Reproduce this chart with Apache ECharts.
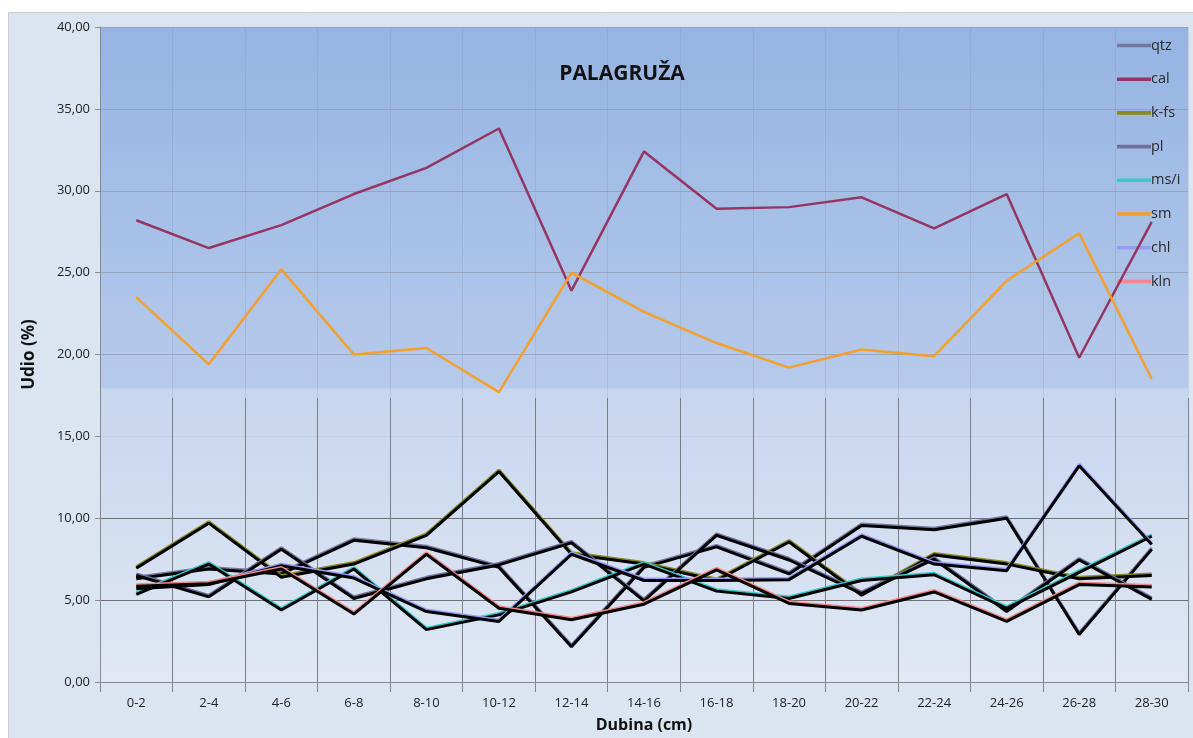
<!DOCTYPE html>
<html>
<head>
<meta charset="utf-8">
<script src="https://cdn.jsdelivr.net/npm/echarts@6/dist/echarts.min.js"></script>
<style>
  html, body { margin: 0; padding: 0; background: #ffffff; }
  #chart { width: 1193px; height: 738px; }
</style>
</head>
<body>
<div id="chart"></div>
<script>
// Depth intervals (cm)
const categories = ['0-2','2-4','4-6','6-8','8-10','10-12','12-14','14-16','16-18','18-20','20-22','22-24','24-26','26-28','28-30'];

// Mineral shares (%) per depth interval
const qtz  = [6.3, 6.9, 6.6, 8.65, 8.2, 7.0, 2.15, 7.0, 8.25, 6.6, 9.55, 9.3, 10.0, 2.9, 8.1];
const cal  = [28.2, 26.5, 27.9, 29.8, 31.4, 33.8, 23.9, 32.4, 28.9, 29.0, 29.6, 27.7, 29.8, 19.8, 28.1];
const kfs  = [6.95, 9.7, 6.4, 7.2, 8.95, 12.85, 7.8, 7.2, 6.2, 8.55, 5.3, 7.75, 7.2, 6.3, 6.5];
const pl   = [6.5, 5.2, 8.1, 5.1, 6.3, 7.15, 8.5, 4.95, 8.95, 7.45, 5.4, 7.5, 4.3, 7.45, 5.05];
const msi  = [5.35, 7.2, 4.4, 6.9, 3.2, 4.1, 5.5, 7.2, 5.55, 5.1, 6.2, 6.55, 4.5, 6.7, 8.9];
const sm   = [23.5, 19.4, 25.2, 20.0, 20.4, 17.7, 25.0, 22.6, 20.7, 19.2, 20.3, 19.9, 24.5, 27.4, 18.5];
const chl  = [5.7, 5.95, 7.1, 6.35, 4.3, 3.7, 7.8, 6.2, 6.2, 6.25, 8.9, 7.2, 6.8, 13.2, 8.4];
const kln  = [5.85, 6.0, 6.9, 4.15, 7.8, 4.5, 3.8, 4.75, 6.85, 4.8, 4.4, 5.5, 3.7, 5.95, 5.8];

const yTicks = { min: 0, max: 40, interval: 5 };

const seriesDefs = [
  { name: 'qtz',  data: qtz, color: '#76769f', dark: true },
  { name: 'cal',  data: cal, color: '#943562', dark: false },
  { name: 'k-fs', data: kfs, color: '#8a8a1a', dark: true },
  { name: 'pl',   data: pl,  color: '#6f6f9c', dark: true },
  { name: 'ms/i', data: msi, color: '#33cccc', dark: true },
  { name: 'sm',   data: sm,  color: '#f5a02a', dark: false },
  { name: 'chl',  data: chl, color: '#9b9bf5', dark: true },
  { name: 'kln',  data: kln, color: '#f58888', dark: true }
];

const FONT = 'Open Sans';
const chart = echarts.init(document.getElementById('chart'), null, { renderer: 'canvas' });

const fmt = v => v.toFixed(2).replace('.', ',');

const series = seriesDefs.map(s => ({
  name: s.name,
  type: 'line',
  data: s.data,
  xAxisIndex: 0,
  yAxisIndex: 0,
  symbol: 'none',
  color: s.color,
  z: s.dark ? 3 : 4,
  lineStyle: s.dark
    ? { color: '#000000', width: 3, shadowColor: s.color, shadowBlur: 0, shadowOffsetY: -1.5 }
    : { color: s.color, width: 2.5 },
  emphasis: { disabled: true },
  animation: false
}));

chart.setOption({
  backgroundColor: '#ffffff',
  animation: false,
  graphic: [{
    type: 'rect',
    shape: { x: 8.5, y: 12.5, width: 1190, height: 730 },
    style: { fill: '#dbe5f1', stroke: '#c9cdd3', lineWidth: 1 },
    z: -10,
    silent: true
  }],
  title: {
    text: 'PALAGRUŽA',
    left: 617,
    textAlign: 'center',
    top: 59,
    textStyle: { fontFamily: FONT, fontSize: 21, fontWeight: 'bold', color: '#111111' }
  },
  legend: {
    orient: 'vertical',
    left: 1112,
    top: 33,
    itemWidth: 34,
    itemHeight: 12,
    itemGap: 18.7,
    textStyle: { fontFamily: FONT, fontSize: 14.5, color: '#2a2a2a', padding: [0, 0, 0, -5] },
    data: seriesDefs.map(s => ({
      name: s.name,
      icon: 'path://M0,4.2 L34,4.2 L34,7.8 L0,7.8 Z',
      itemStyle: { color: s.color },
      lineStyle: { color: s.color, width: 3 }
    }))
  },
  grid: [
    {
      left: 100, right: 5, top: 27, bottom: 46,
      show: true,
      borderWidth: 0,
      backgroundColor: new echarts.graphic.LinearGradient(0, 0, 0, 1, [
        { offset: 0, color: '#95b4e2' },
        { offset: 0.55, color: '#b6caeb' },
        { offset: 0.553, color: '#c7d5ee' },
        { offset: 1, color: '#e0e8f4' }
      ])
    },
    { left: 100, right: 5, top: 398, bottom: 46, show: false }
  ],
  xAxis: [
    {
      type: 'category',
      data: categories,
      gridIndex: 0,
      boundaryGap: true,
      name: 'Dubina (cm)',
      nameLocation: 'middle',
      nameGap: 35,
      nameTextStyle: { fontFamily: FONT, fontSize: 16, fontWeight: 'bold', color: '#111111' },
      axisLine: { show: true, lineStyle: { color: '#8a8a8a', width: 1 } },
      axisTick: { show: true, length: 7, lineStyle: { color: '#8a8a8a' } },
      axisLabel: { fontFamily: FONT, fontSize: 13, color: '#222222', margin: 15 },
      splitLine: { show: true, lineStyle: { color: 'rgba(130,140,170,0.25)', width: 1 } }
    },
    {
      type: 'category',
      data: categories,
      gridIndex: 1,
      boundaryGap: true,
      axisLine: { show: false },
      axisTick: { show: false },
      axisLabel: { show: false },
      splitLine: { show: true, lineStyle: { color: '#7d7d85', width: 1 } }
    }
  ],
  yAxis: [
    {
      type: 'value',
      gridIndex: 0,
      min: yTicks.min,
      max: yTicks.max,
      interval: yTicks.interval,
      name: 'Udio (%)',
      nameLocation: 'middle',
      nameGap: 62,
      nameRotate: 90,
      nameTextStyle: { fontFamily: FONT, fontSize: 17, fontWeight: 'bold', color: '#111111' },
      axisLine: { show: true, lineStyle: { color: '#8a8a8a' } },
      axisTick: { show: true, length: 5, lineStyle: { color: '#8a8a8a' } },
      axisLabel: { fontFamily: FONT, fontSize: 13, color: '#222222', margin: 10, formatter: fmt },
      splitLine: {
        show: true,
        lineStyle: {
          color: ['#8a8a8a', '#707070', '#707070', '#c9d2e2', '#9aa6bb', '#98a6c0', '#95a4c2', '#93a2c4', '#93a2c4'],
          width: 1
        }
      }
    },
    {
      type: 'value',
      gridIndex: 1,
      min: 0, max: 1,
      show: false,
      splitLine: { show: false }
    }
  ],
  series: series
});
</script>
</body>
</html>
